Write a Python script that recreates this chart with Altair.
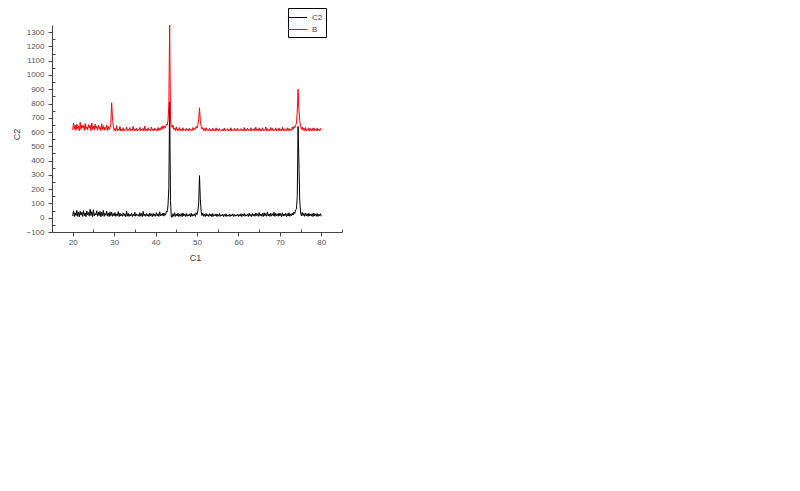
import altair as alt
import pandas as pd

# x sampling grid: 20.0 .. 80.0 step 0.2 (301 samples)
x_vals = [round(20 + 0.2 * i, 1) for i in range(301)]

c2_vals = [
    12, 48, 8, 35, 15, 52, 10, 40, 6, 45,
    18, 38, 9, 50, 14, 33, 7, 47, 20, 36,
    11, 58, 16, 42, 8, 55, 13, 30, 19, 49,
    10, 37, 15, 44, 7, 39, 12, 51, 9, 32,
    17, 46, 11, 34, 8, 41, 14, 38, 10, 29,
    13, 36, 9, 27, 15, 43, 8, 31, 12, 25,
    10, 34, 14, 28, 7, 46, 11, 30, 9, 24,
    13, 32, 8, 26, 12, 38, 10, 27, 15, 23,
    9, 35, 11, 29, 8, 44, 13, 26, 10, 31,
    12, 24, 9, 33, 14, 27, 8, 30, 11, 25,
    10, 36, 13, 28, 9, 42, 12, 26, 15, 34,
    11, 30, 18, 45, 40, 85, 210, 810, 120, 5,
    3, 28, 10, 35, 9, 26, 12, 31, 8, 24,
    11, 29, 7, 33, 13, 25, 9, 30, 10, 22,
    12, 27, 8, 31, 10, 24, 14, 28, 9, 35,
    22, 48, 95, 295, 130, 45, 15, 32, 10, 26,
    8, 30, 12, 23, 9, 28, 11, 25, 7, 29,
    10, 22, 13, 27, 8, 24, 11, 30, 9, 21,
    12, 26, 7, 23, 10, 28, 9, 20, 11, 25,
    8, 22, 12, 27, 9, 24, 10, 21, 13, 26,
    9, 23, 11, 28, 8, 25, 12, 30, 10, 22,
    13, 27, 9, 31, 11, 24, 8, 29, 12, 26,
    10, 33, 14, 28, 9, 36, 12, 27, 11, 30,
    8, 35, 13, 29, 10, 41, 12, 26, 9, 32,
    11, 28, 14, 38, 9, 30, 12, 27, 10, 33,
    13, 29, 8, 34, 11, 26, 14, 31, 9, 28,
    12, 35, 10, 27, 14, 32, 18, 40, 30, 55,
    60, 150, 640, 390, 120, 40, 12, 38, 15, 30,
    10, 34, 13, 28, 9, 31, 12, 26, 11, 29,
    8, 33, 12, 27, 10, 30, 9, 25, 13, 28, 10,
]

b_vals = [
    615, 662, 620, 648, 612, 655, 625, 640, 610, 668,
    618, 650, 630, 645, 612, 660, 622, 638, 615, 652,
    628, 646, 610, 664, 620, 642, 614, 655, 626, 640,
    612, 648, 622, 636, 610, 658, 618, 644, 612, 634,
    620, 650, 611, 640, 616, 632, 660, 805, 700, 640,
    612, 625, 608, 645, 610, 620, 612, 640, 608, 622,
    610, 630, 608, 618, 612, 635, 609, 620, 611, 632,
    608, 618, 612, 640, 609, 622, 610, 628, 608, 620,
    612, 634, 609, 619, 611, 626, 608, 642, 610, 621,
    609, 630, 612, 618, 608, 636, 611, 622, 609, 628,
    612, 620, 608, 632, 611, 626, 614, 638, 620, 645,
    625, 640, 632, 655, 648, 680, 790, 1350, 690, 640,
    632, 650, 618, 628, 610, 636, 612, 624, 609, 632,
    611, 620, 608, 630, 612, 618, 609, 626, 611, 622,
    608, 628, 612, 620, 610, 632, 614, 625, 618, 640,
    628, 645, 690, 770, 680, 640, 620, 632, 610, 625,
    608, 630, 611, 618, 609, 626, 610, 620, 608, 628,
    610, 618, 608, 630, 611, 620, 609, 625, 610, 616,
    608, 622, 610, 628, 609, 618, 611, 624, 608, 620,
    610, 630, 608, 617, 611, 626, 609, 620, 610, 628,
    608, 615, 611, 624, 609, 618, 610, 632, 608, 621,
    611, 627, 609, 618, 610, 630, 608, 620, 612, 625,
    609, 634, 610, 619, 611, 628, 608, 622, 610, 630,
    609, 618, 611, 636, 608, 624, 610, 620, 609, 632,
    611, 626, 608, 618, 610, 630, 609, 622, 611, 628,
    608, 620, 610, 634, 609, 624, 611, 618, 608, 630,
    610, 626, 609, 620, 612, 635, 618, 640, 630, 648,
    660, 740, 900, 760, 680, 640, 620, 636, 612, 628,
    610, 632, 609, 620, 611, 630, 608, 624, 610, 626,
    609, 630, 611, 620, 608, 628, 610, 622, 609, 625, 612,
]

series_names = ["C2", "B"]
series_colors = ["#000000", "#ff0000"]
x_major = [20, 30, 40, 50, 60, 70, 80]
x_minor = [15, 25, 35, 45, 55, 65, 75, 85]
y_major = [-100, 0, 100, 200, 300, 400, 500, 600, 700, 800, 900, 1000, 1100, 1200, 1300]
y_minor = [-50, 50, 150, 250, 350, 450, 550, 650, 750, 850, 950, 1050, 1150, 1250]

df = pd.concat([
    pd.DataFrame({"C1": x_vals, "val": c2_vals, "series": "C2"}),
    pd.DataFrame({"C1": x_vals, "val": b_vals, "series": "B"}),
], ignore_index=True)

FONT = "Liberation Sans"
xscale = alt.Scale(domain=[15, 85], nice=False, zero=False)
yscale = alt.Scale(domain=[-100, 1350], nice=False, zero=False)
cscale = alt.Scale(domain=series_names, range=series_colors)

x_axis_major = alt.Axis(
    orient="bottom", values=x_major, format="d", title="C1", grid=False,
    tickSize=4, labelPadding=2,
    labelFontSize=8, labelColor="#555555", labelFont=FONT,
    domainColor="#444444", tickColor="#444444",
    titleFont=FONT, titleFontSize=9, titleFontWeight="normal", titleColor="#444444",
    titleX=143, titleY=25, titleBaseline="middle",
)
y_axis_major = alt.Axis(
    orient="left", values=y_major, format="d", title="C2", grid=False,
    tickSize=4, labelPadding=4,
    labelFontSize=8, labelColor="#555555", labelFont=FONT,
    domainColor="#444444", tickColor="#444444",
    titleFont=FONT, titleFontSize=9, titleFontWeight="normal", titleColor="#444444",
    titleX=-31, titleY=109,
)
x_axis_minor = alt.Axis(orient="bottom", values=x_minor, title=None, labels=False,
                        domain=False, grid=False, tickSize=3, offset=-3, tickColor="#444444")
y_axis_minor = alt.Axis(orient="left", values=y_minor, title=None, labels=False,
                        domain=False, grid=False, tickSize=3, offset=-3, tickColor="#444444")

legend = alt.Legend(
    title=None, orient="none", legendX=236, legendY=-17,
    strokeColor="#000000", fillColor="#ffffff", padding=3,
    symbolType="M-1.6,0H1.6", symbolSize=144, symbolStrokeWidth=1,
    labelFont=FONT, labelFontSize=8, labelColor="#444444",
    rowPadding=1, labelOffset=8,
)

base = alt.Chart(df)

minor_layer = base.mark_line(opacity=0).encode(
    x=alt.X("C1:Q", scale=xscale, axis=x_axis_minor),
    y=alt.Y("val:Q", scale=yscale, axis=y_axis_minor),
    detail="series:N",
)

black = base.transform_filter(alt.datum.series == "C2").mark_line(strokeWidth=1).encode(
    x=alt.X("C1:Q", scale=xscale, axis=x_axis_major),
    y=alt.Y("val:Q", scale=yscale, axis=y_axis_major),
    color=alt.Color("series:N", scale=cscale, legend=legend, sort=series_names),
)
red = base.transform_filter(alt.datum.series == "B").mark_line(strokeWidth=1).encode(
    x=alt.X("C1:Q", scale=xscale, axis=None),
    y=alt.Y("val:Q", scale=yscale, axis=None),
    color=alt.Color("series:N", scale=cscale, legend=legend, sort=series_names),
)

chart = alt.layer(black, red, minor_layer).resolve_axis(x="independent", y="independent").properties(
    width=290, height=207,
    autosize=alt.AutoSizeParams(type="none"),
    padding={"left": 44, "top": 17, "right": 400, "bottom": 220},
).configure_view(stroke=None)

chart.save("out.html", embed_options={"renderer": "svg", "actions": False})
